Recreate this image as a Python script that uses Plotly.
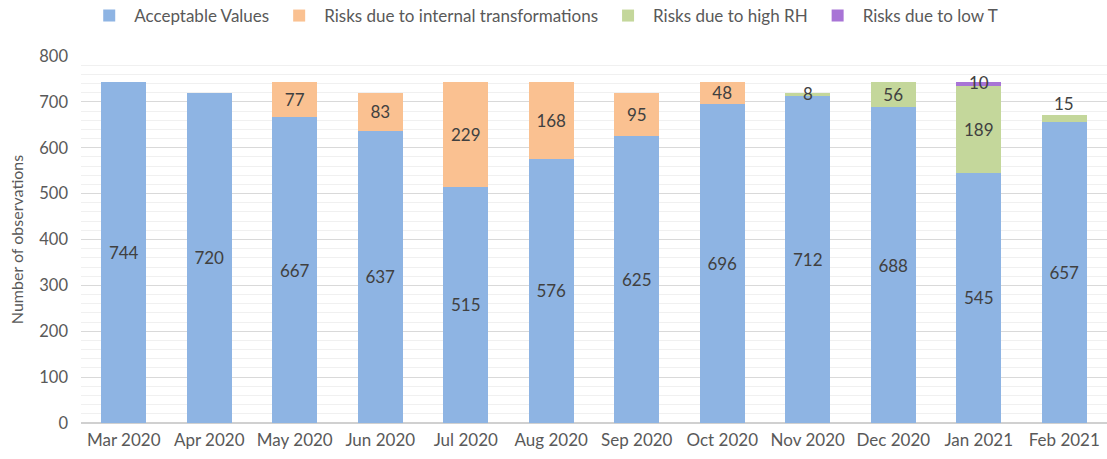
import plotly.graph_objects as go
import numpy as np

months = ["Mar 2020", "Apr 2020", "May 2020", "Jun 2020", "Jul 2020", "Aug 2020",
          "Sep 2020", "Oct 2020", "Nov 2020", "Dec 2020", "Jan 2021", "Feb 2021"]
acceptable = [744, 720, 667, 637, 515, 576, 625, 696, 712, 688, 545, 657]
internal = [0, 0, 77, 83, 229, 168, 95, 48, 0, 0, 0, 0]
high_rh = [0, 0, 0, 0, 0, 0, 0, 0, 8, 56, 189, 15]
low_t = [0, 0, 0, 0, 0, 0, 0, 0, 0, 0, 10, 0]
y_ticks = [0, 100, 200, 300, 400, 500, 600, 700, 800]

series = [
    ("Acceptable Values", acceptable, "#8EB4E3"),
    ("Risks due to internal transformations", internal, "#FAC191"),
    ("Risks due to high RH", high_rh, "#C4D79B"),
    ("Risks due to low T", low_t, "#A874D6"),
]

FONT = "Lato"
LABEL_COLOR = "#404040"
TICK_COLOR = "#595959"
SMALL = 30  # segments too thin for an inside label

fig = go.Figure()
base = np.zeros(len(months))
annotations = []
for name, vals, color in series:
    texts = []
    for i, v in enumerate(vals):
        if v >= SMALL:
            texts.append(str(v))
        else:
            texts.append("")
            if v > 0:
                above = (v >= 12)
                yval = base[i] + v / 2
                annotations.append(dict(
                    x=months[i], y=yval, text=str(v), showarrow=False,
                    xref="x", yref="y", yanchor="bottom" if above else "middle",
                    yshift=2 if above else 1,
                    font=dict(family=FONT, size=17, color=LABEL_COLOR)))
    fig.add_trace(go.Bar(
        x=months, y=[v if v > 0 else None for v in vals], name=name,
        marker=dict(color=color, line=dict(width=0)),
        text=texts, textposition="inside", insidetextanchor="middle", textangle=0,
        textfont=dict(family=FONT, size=17, color=LABEL_COLOR),
        constraintext="none", hoverinfo="skip",
    ))
    base = base + np.array(vals)

fig.update_layout(
    barmode="stack",
    bargap=0.47,
    width=1107, height=459,
    margin=dict(l=81, r=0, t=56, b=36, autoexpand=False),
    paper_bgcolor="white", plot_bgcolor="white",
    font=dict(family=FONT, size=17, color=TICK_COLOR),
    legend=dict(orientation="h", x=0.451, xanchor="center",
                yref="container", y=1 - 16 / 459, yanchor="middle",
                font=dict(family=FONT, size=17, color=TICK_COLOR),
                itemwidth=40, traceorder="normal"),
    annotations=annotations,
    showlegend=True,
)
fig.update_xaxes(
    type="category", showgrid=False, zeroline=False, showline=False,
    tickfont=dict(family=FONT, size=17, color=TICK_COLOR), ticklabelstandoff=5,
)
fig.update_yaxes(
    range=[0, 800], tickvals=y_ticks, showgrid=True, gridcolor="#D9D9D9", gridwidth=1,
    minor=dict(dtick=20, showgrid=True, gridcolor="#F0F0F0", gridwidth=1),
    zeroline=True, zerolinecolor="#D0D0D0", zerolinewidth=2,
    showline=False,
    tickfont=dict(family=FONT, size=16.5, color=TICK_COLOR), ticklabelstandoff=12,
    title=dict(text="Number of observations", standoff=11,
               font=dict(family=FONT, size=16, color=TICK_COLOR)),
)

fig.write_html("out.html", config={"displayModeBar": False},
               post_script="document.body.style.margin='0';document.body.style.overflow='hidden';")
